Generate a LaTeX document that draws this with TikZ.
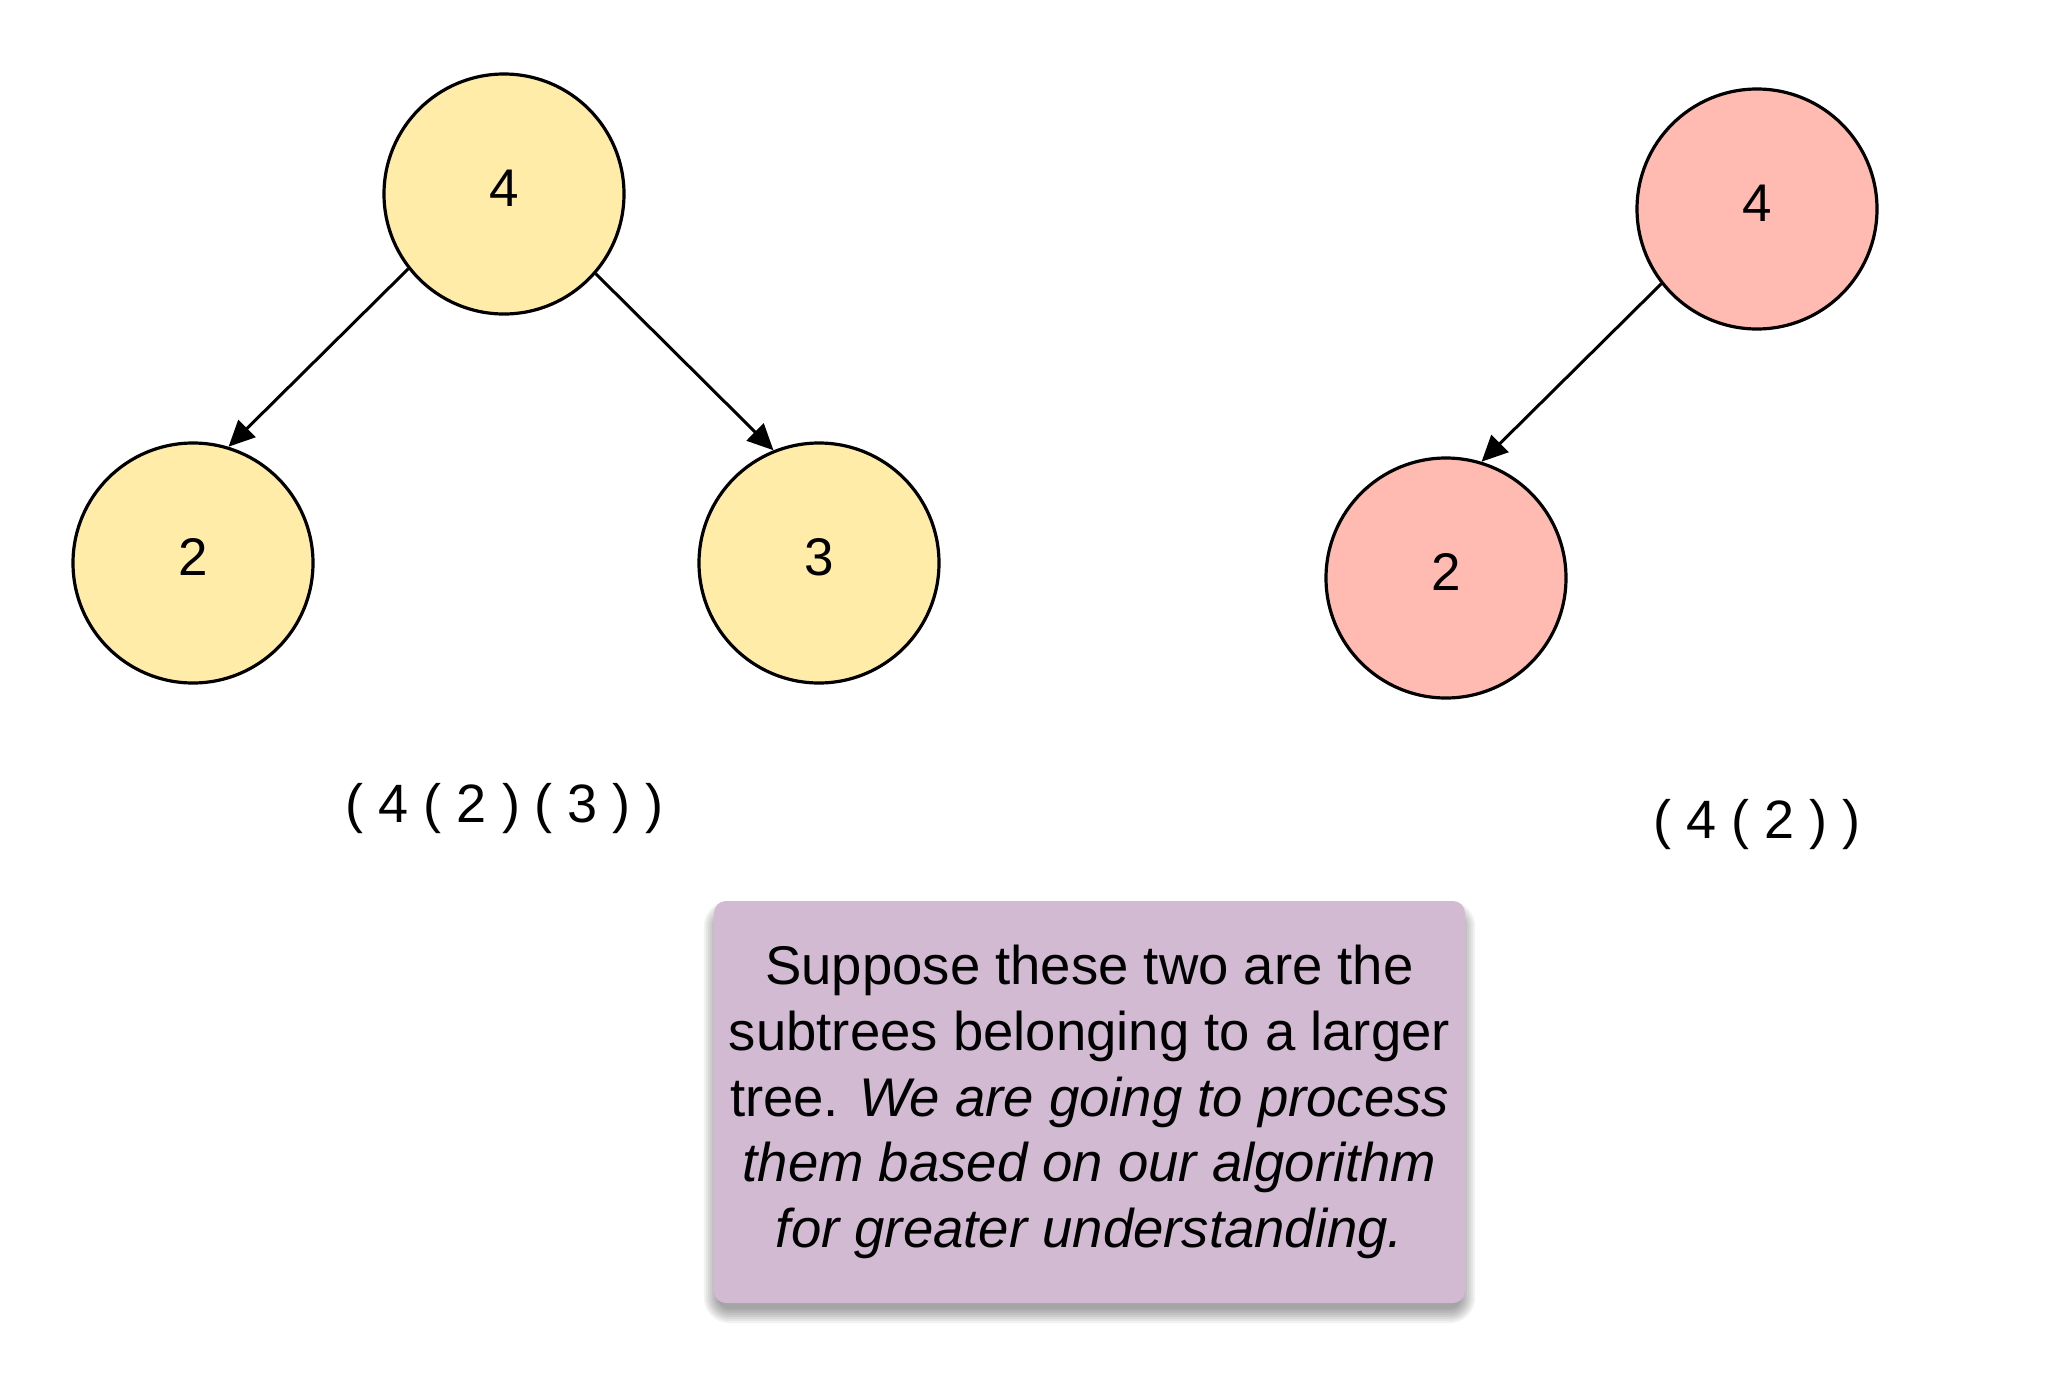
\documentclass[tikz,border=0pt]{standalone}
\usepackage{fontspec}
\setmainfont{Liberation Sans}
\usetikzlibrary{arrows.meta,backgrounds,calc}
\definecolor{nodeyellow}{HTML}{FFECA9}
\definecolor{nodepink}{HTML}{FFBBB1}
\definecolor{notepurple}{HTML}{D2BAD2}
\begin{document}
\begin{tikzpicture}[x=1pt,y=-1pt,
  treenode/.style={circle,draw=black,line width=3.2pt,minimum size=240pt,inner sep=0pt},
  ynode/.style={treenode,fill=nodeyellow},
  pnode/.style={treenode,fill=nodepink},
  digit/.style={font=\fontsize{53}{60}\selectfont},
  edge/.style={line width=3pt,-{Triangle[length=26pt,width=24pt]}},
  treelabel/.style={font=\fontsize{54}{60}\selectfont},
  note/.style={rounded corners=12pt,fill=notepurple,minimum width=751pt,minimum height=402pt,
    align=center,font=\fontsize{54.5}{65.6}\selectfont}
]
\useasboundingbox (0,0) rectangle (2059,1376);

% left tree
\node[ynode,label={[digit,yshift=6pt]center:4}] (a4) at (504,194) {};
\node[ynode,label={[digit,yshift=6pt]center:2}] (a2) at (193,563) {};
\node[ynode,label={[digit,yshift=6pt]center:3}] (a3) at (819,563) {};
\draw[edge] (a4.218) -- (a2.73);
\draw[edge] (a4.319) -- (a3.112);
\node[treelabel] (alab) at (505,809) {( 4 ( 2 ) ( 3 ) )};

% right tree
\node[pnode,label={[digit,yshift=6pt]center:4}] (b4) at (1757,209) {};
\node[pnode,label={[digit,yshift=6pt]center:2}] (b2) at (1446,578) {};
\draw[edge] (b4.218) -- (b2.73);
\node[treelabel] (blab) at (1757,825) {( 4 ( 2 ) )};

% note
\node[note] (n) at (1089.5,1102) {Suppose these two are the\\subtrees belonging to a larger\\tree. \textit{We are going to process}\\\textit{them based on our algorithm}\\\textit{for greater understanding.}};
\begin{scope}[on background layer]
  \fill[white] (0,0) rectangle (2059,1376);
  \foreach \e in {0,2,...,14} {
    \fill[black,opacity=0.05,rounded corners=12pt+\e pt]
      ($(n.north west)+(-\e+4,-\e+14)$) rectangle ($(n.south east)+(\e-4,\e+6)$);
  }
\end{scope}
\end{tikzpicture}
\end{document}
